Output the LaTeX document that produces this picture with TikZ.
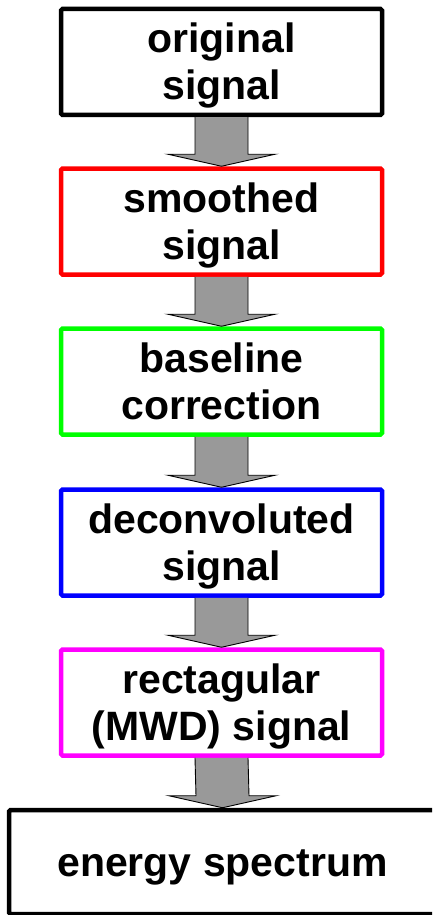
\documentclass[tikz,border=0pt]{standalone}
\usepackage{fontspec}
\setmainfont{Liberation Sans}
\usetikzlibrary{calc}
\definecolor{arrowgray}{RGB}{153,153,153}
\newcommand\twolines[2]{\rule{0pt}{37.5pt}#1\\#2\rule[-8.6pt]{0pt}{8.6pt}}
\newcommand\oneline[1]{\rule{0pt}{37.5pt}#1\rule[-8.6pt]{0pt}{8.6pt}}
\tikzset{
  stepbox/.style={draw, line width=4.5pt, fill=white, rounded corners=1.5pt,
    minimum width=321pt, minimum height=106pt, inner sep=0pt, align=center,
    font=\fontsize{41}{47}\selectfont\bfseries},
  blockarrow/.style={draw=black, line width=0.9pt, fill=arrowgray, line join=miter}
}
\newcommand\flowarrow[2]{%
  \filldraw[blockarrow] ($(#1.south)+(-26.5,0)$) -- ($(#2.north)+(-26.5,-12)$)
    -- ($(#2.north)+(-53.5,-12)$) -- (#2.north) -- ($(#2.north)+(53.5,-12)$)
    -- ($(#2.north)+(26.5,-12)$) -- ($(#1.south)+(26.5,0)$);}
\begin{document}
\begin{tikzpicture}[x=1pt,y=-1pt]
\clip (0,0) rectangle (432,915);
\fill[white] (0,0) rectangle (432,915);
\node[stepbox, draw=black] (b1) at (221.5,62) {\twolines{original}{signal}};
\node[stepbox, draw=red] (b2) at (221.5,221.5) {\twolines{smoothed}{signal}};
\node[stepbox, draw={rgb,255:red,0;green,255;blue,0}] (b3) at (221.5,381.5) {\twolines{baseline}{correction}};
\node[stepbox, draw=blue] (b4) at (221.5,542.5) {\twolines{deconvoluted}{signal}};
\node[stepbox, draw={rgb,255:red,255;green,0;blue,255}] (b5) at (221.5,702.5) {\twolines{rectagular}{(MWD) signal}};
\node[stepbox, draw=black, minimum width=427pt, minimum height=104pt] (b6) at (222.5,862) {\oneline{energy spectrum}};
\flowarrow{b1}{b2}
\flowarrow{b2}{b3}
\flowarrow{b3}{b4}
\flowarrow{b4}{b5}
\flowarrow{b5}{b6}
\end{tikzpicture}
\end{document}
